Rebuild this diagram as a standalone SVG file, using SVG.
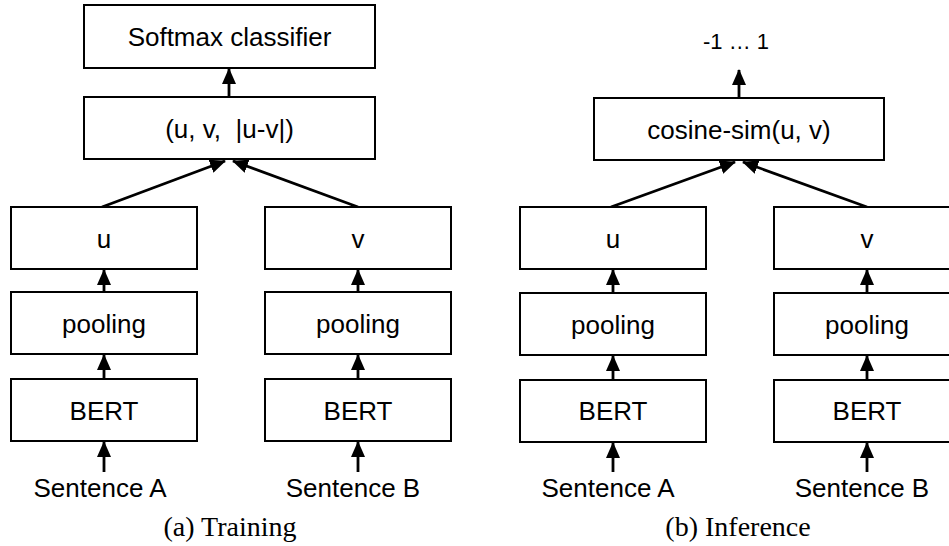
<svg xmlns="http://www.w3.org/2000/svg" width="949" height="546" viewBox="0 0 949 546">
<style>
.box{fill:#fff;stroke:#000;stroke-width:2}
.lbl{font-family:"Liberation Sans",Arial,sans-serif;font-size:26px;fill:#000;text-anchor:middle}
.cap{font-family:"Liberation Serif","Times New Roman",serif;font-size:28px;fill:#000;text-anchor:middle}
.arr{stroke:#000;stroke-width:2.8;fill:none;marker-end:url(#ah)}
</style>
<defs>
<marker id="ah" viewBox="0 0 16 14" refX="15" refY="7" markerWidth="16" markerHeight="14" markerUnits="userSpaceOnUse" orient="auto">
<path d="M0,0 L16,7 L0,14 Z" fill="#000"/>
</marker>
</defs>
<rect width="949" height="546" fill="#fff"/>
<g id="connectors">
<line class="arr" x1="229" y1="97" x2="229" y2="69"/>
<line class="arr" x1="102" y1="207" x2="225" y2="161"/>
<line class="arr" x1="358" y1="207" x2="233" y2="161"/>
<line class="arr" x1="104" y1="292" x2="104" y2="270"/>
<line class="arr" x1="104" y1="379" x2="104" y2="355"/>
<line class="arr" x1="104" y1="472" x2="104" y2="442"/>
<line class="arr" x1="358" y1="292" x2="358" y2="270"/>
<line class="arr" x1="358" y1="379" x2="358" y2="355"/>
<line class="arr" x1="358" y1="472" x2="358" y2="442"/>
<line class="arr" x1="739" y1="98" x2="739" y2="70"/>
<line class="arr" x1="611" y1="207" x2="735" y2="162"/>
<line class="arr" x1="867" y1="207" x2="743" y2="162"/>
<line class="arr" x1="613" y1="293" x2="613" y2="270"/>
<line class="arr" x1="613" y1="380" x2="613" y2="356"/>
<line class="arr" x1="613" y1="472" x2="613" y2="443"/>
<line class="arr" x1="867" y1="293" x2="867" y2="270"/>
<line class="arr" x1="867" y1="380" x2="867" y2="356"/>
<line class="arr" x1="867" y1="472" x2="867" y2="443"/>
</g>
<g id="softmax"><rect class="box" x="84" y="5" width="291" height="63"/><text class="lbl" x="229.5" y="46">Softmax classifier</text></g>
<g id="concat"><rect class="box" x="84" y="97" width="291" height="62"/><text class="lbl" x="229.5" y="137.5" xml:space="preserve">(u, v,  |u-v|)</text></g>
<g id="a-u"><rect class="box" x="11" y="207" width="186" height="62"/><text class="lbl" x="104" y="247.5">u</text></g>
<g id="a-pool-a"><rect class="box" x="11" y="292" width="186" height="62"/><text class="lbl" x="104" y="332.5">pooling</text></g>
<g id="a-bert-a"><rect class="box" x="11" y="379" width="186" height="62"/><text class="lbl" x="104" y="419.5">BERT</text></g>
<g id="a-v"><rect class="box" x="265" y="207" width="186" height="62"/><text class="lbl" x="358" y="247.5">v</text></g>
<g id="a-pool-b"><rect class="box" x="265" y="292" width="186" height="62"/><text class="lbl" x="358" y="332.5">pooling</text></g>
<g id="a-bert-b"><rect class="box" x="265" y="379" width="186" height="62"/><text class="lbl" x="358" y="419.5">BERT</text></g>
<g id="a-sent-a"><text class="lbl" x="100" y="497">Sentence A</text></g>
<g id="a-sent-b"><text class="lbl" x="353" y="497">Sentence B</text></g>
<g id="cap-a"><text class="cap" x="230" y="536">(a) Training</text></g>
<g id="range"><text class="lbl" x="736" y="49" style="font-size:22px">-1 … 1</text></g>
<g id="cosine"><rect class="box" x="594" y="98" width="290" height="62"/><text class="lbl" x="739" y="138.5">cosine-sim(u, v)</text></g>
<g id="b-u"><rect class="box" x="520" y="207" width="186" height="62"/><text class="lbl" x="613" y="247.5">u</text></g>
<g id="b-pool-a"><rect class="box" x="520" y="293" width="186" height="62"/><text class="lbl" x="613" y="333.5">pooling</text></g>
<g id="b-bert-a"><rect class="box" x="520" y="380" width="186" height="62"/><text class="lbl" x="613" y="420">BERT</text></g>
<g id="b-v"><rect class="box" x="774" y="207" width="186" height="62"/><text class="lbl" x="867" y="247.5">v</text></g>
<g id="b-pool-b"><rect class="box" x="774" y="293" width="186" height="62"/><text class="lbl" x="867" y="333.5">pooling</text></g>
<g id="b-bert-b"><rect class="box" x="774" y="380" width="186" height="62"/><text class="lbl" x="867" y="420">BERT</text></g>
<g id="b-sent-a"><text class="lbl" x="608" y="497">Sentence A</text></g>
<g id="b-sent-b"><text class="lbl" x="862" y="497">Sentence B</text></g>
<g id="cap-b"><text class="cap" x="738" y="536">(b) Inference</text></g>
</svg>
